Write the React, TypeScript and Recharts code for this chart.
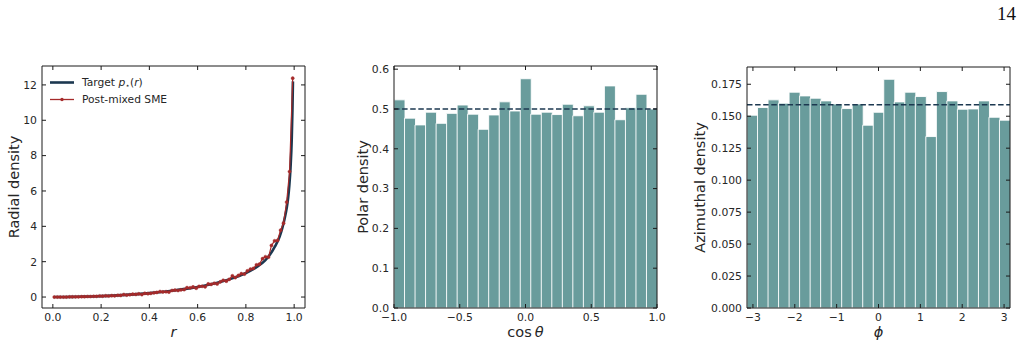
import {
  ComposedChart,
  LineChart,
  Line,
  Bar,
  XAxis,
  YAxis,
  ReferenceLine,
  Legend,
} from "recharts";

const FONT = "'DejaVu Sans', sans-serif";
const INK = "#262626";
const FRAME = "#1a1a1a";
const NAVY = "#1c3850";
const BRICK = "#a52a2a";
const TEAL = "#699c9c";

// radial density panel
const targetR = [0.005, 0.05, 0.1, 0.15, 0.2, 0.25, 0.3, 0.35, 0.4, 0.45, 0.5, 0.55, 0.6, 0.65, 0.7, 0.75, 0.8, 0.85, 0.88, 0.9, 0.92, 0.94, 0.95, 0.96, 0.97, 0.975, 0.98, 0.985, 0.99, 0.993, 0.995];
const targetP = [0.0, 0.003, 0.013, 0.029, 0.052, 0.082, 0.12, 0.167, 0.222, 0.289, 0.367, 0.461, 0.573, 0.708, 0.873, 1.083, 1.358, 1.746, 2.075, 2.4, 2.85, 3.42, 3.85, 4.4, 5.1, 5.6, 6.3, 7.3, 8.9, 10.6, 12.2];

const smeR = [
  0.006, 0.019, 0.031, 0.044, 0.056, 0.069, 0.081, 0.094, 0.106, 0.119,
  0.131, 0.144, 0.156, 0.169, 0.181, 0.194, 0.206, 0.219, 0.231, 0.244,
  0.256, 0.269, 0.281, 0.294, 0.306, 0.319, 0.331, 0.344, 0.356, 0.369,
  0.381, 0.394, 0.406, 0.419, 0.431, 0.444, 0.456, 0.469, 0.481, 0.494,
  0.506, 0.519, 0.531, 0.544, 0.556, 0.569, 0.581, 0.594, 0.606, 0.619,
  0.631, 0.644, 0.656, 0.669, 0.681, 0.694, 0.706, 0.719, 0.731, 0.744,
  0.756, 0.769, 0.781, 0.794, 0.806, 0.819, 0.831, 0.844, 0.856, 0.869,
  0.881, 0.894, 0.906, 0.919, 0.931, 0.944, 0.956, 0.969, 0.981, 0.994,
];
const smeP = [
  0.0, 0.0, 0.0, 0.0, 0.0, 0.01, 0.01, 0.01, 0.01, 0.02,
  0.02, 0.03, 0.03, 0.04, 0.04, 0.06, 0.05, 0.07, 0.06, 0.08,
  0.07, 0.1, 0.09, 0.14, 0.11, 0.13, 0.16, 0.15, 0.18, 0.14,
  0.21, 0.19, 0.21, 0.24, 0.26, 0.31, 0.29, 0.3, 0.28, 0.37,
  0.39, 0.37, 0.41, 0.42, 0.53, 0.52, 0.57, 0.5, 0.6, 0.61,
  0.58, 0.74, 0.72, 0.78, 0.74, 0.86, 0.95, 0.9, 1.0, 1.2,
  1.1, 1.22, 1.32, 1.3, 1.48, 1.58, 1.62, 1.82, 1.86, 2.17,
  2.28, 2.26, 2.92, 3.18, 3.2, 3.78, 4.18, 5.37, 7.1, 12.38,
];
const radialXTicks = [0, 0.2, 0.4, 0.6, 0.8, 1.0];
const radialYTicks = [0, 2, 4, 6, 8, 10, 12];

// polar density panel (cos theta histogram, 25 bins)
const polarBins = [
  -0.96, -0.88, -0.8, -0.72, -0.64, -0.56, -0.48, -0.4, -0.32, -0.24, -0.16, -0.08, 0,
  0.08, 0.16, 0.24, 0.32, 0.4, 0.48, 0.56, 0.64, 0.72, 0.8, 0.88, 0.96,
];
const polarDensity = [
  0.523, 0.477, 0.46, 0.492, 0.464, 0.489, 0.51, 0.487, 0.449, 0.485, 0.518, 0.495, 0.576,
  0.487, 0.492, 0.486, 0.512, 0.483, 0.508, 0.492, 0.558, 0.473, 0.503, 0.537, 0.5,
];
const polarXTicks = [-1, -0.5, 0, 0.5, 1];
const polarYTicks = [0, 0.1, 0.2, 0.3, 0.4, 0.5, 0.6];
const polarUniform = 0.5;

// azimuthal density panel (phi histogram, 25 bins)
const aziBins = [
  -3.016, -2.765, -2.513, -2.262, -2.011, -1.759, -1.508, -1.257, -1.005, -0.754, -0.503, -0.251, 0,
  0.251, 0.503, 0.754, 1.005, 1.257, 1.508, 1.759, 2.011, 2.262, 2.513, 2.765, 3.016,
];
const aziDensity = [
  0.1508, 0.1568, 0.1628, 0.1602, 0.1688, 0.1659, 0.1641, 0.162, 0.1596, 0.156, 0.1596, 0.143, 0.1531,
  0.1789, 0.1612, 0.1688, 0.1654, 0.1341, 0.1693, 0.162, 0.1555, 0.1557, 0.162, 0.1492, 0.1469,
];
const aziXTicks = [-3, -2, -1, 0, 1, 2, 3];
const aziYTicks = [0, 0.025, 0.05, 0.075, 0.1, 0.125, 0.15, 0.175];
const aziUniform = 0.159;

const tickStyle = { fontFamily: FONT, fontSize: 10.8, fill: INK };
const frameLine = { stroke: FRAME, strokeWidth: 1 };
const blank = () => "";
const fmt = (digits: number) => (v: number) => v.toFixed(digits).replace("-", "\u2212");

const xTitle = (node: any) => (p: any) => {
  const vb = p.viewBox || {};
  return (
    <text x={vb.x + vb.width / 2} y={vb.y + 29} textAnchor="middle" fontFamily={FONT} fontSize={14.5} fill={INK}>
      {node}
    </text>
  );
};

const yTitle = (value: string, offset: number) => (p: any) => {
  const vb = p.viewBox || {};
  const x = vb.x + offset;
  const y = vb.y + vb.height / 2;
  return (
    <text x={x} y={y} transform={`rotate(-90, ${x}, ${y})`} textAnchor="middle" dominantBaseline="central" fontFamily={FONT} fontSize={14.5} fill={INK}>
      {value}
    </text>
  );
};

const RadialLegend = () => (
  <div style={{ fontFamily: FONT, fontSize: 10.7, color: INK, lineHeight: "17px", whiteSpace: "nowrap" }}>
    <div style={{ display: "flex", alignItems: "center", height: 17 }}>
      <svg width={24} height={17}>
        <line x1={0} x2={24} y1={8.5} y2={8.5} stroke={NAVY} strokeWidth={2.6} />
      </svg>
      <span style={{ marginLeft: 8 }}>
        Target <i>p</i>
        <span style={{ fontSize: 7.5, position: "relative", top: 2 }}>⋆</span>(<i>r</i>)
      </span>
    </div>
    <div style={{ display: "flex", alignItems: "center", height: 17 }}>
      <svg width={24} height={17}>
        <line x1={0} x2={24} y1={8.5} y2={8.5} stroke={BRICK} strokeWidth={1.3} />
        <circle cx={12} cy={8.5} r={1.7} fill={BRICK} />
      </svg>
      <span style={{ marginLeft: 8 }}>Post-mixed SME</span>
    </div>
  </div>
);

const RadialPanel = () => {
  const targetRows = targetR.map((r, i) => ({ r, p: targetP[i] }));
  const smeRows = smeR.map((r, i) => ({ r, p: smeP[i] }));
  const xDom = [-0.045, 1.045];
  const yDom = [-0.62, 13.07];
  return (
    <LineChart width={320} height={347} margin={{ top: 65, right: 14, bottom: 0, left: 0 }}>
      <XAxis xAxisId="bottom" type="number" dataKey="r" domain={xDom} ticks={radialXTicks} allowDataOverflow
        tickFormatter={fmt(1)} tick={tickStyle} axisLine={frameLine} tickLine={frameLine} tickSize={-4} tickMargin={9}
        height={39} label={{ content: xTitle(<tspan fontStyle="italic">r</tspan>) }} />
      <XAxis xAxisId="top" orientation="top" type="number" dataKey="r" domain={xDom} ticks={radialXTicks} allowDataOverflow
        tickFormatter={blank} axisLine={frameLine} tickLine={frameLine} tickSize={-4} height={1} />
      <YAxis yAxisId="left" type="number" domain={yDom} ticks={radialYTicks} allowDataOverflow width={42}
        tickFormatter={fmt(0)} tick={tickStyle} axisLine={frameLine} tickLine={frameLine} tickSize={-4} tickMargin={9}
        label={{ content: yTitle("Radial density", 13.5) }} />
      <YAxis yAxisId="right" orientation="right" type="number" domain={yDom} ticks={radialYTicks} allowDataOverflow width={1}
        tickFormatter={blank} axisLine={frameLine} tickLine={frameLine} tickSize={-4} />
      <Legend layout="vertical" align="center" verticalAlign="middle" content={() => <RadialLegend />}
        wrapperStyle={{ left: 50, top: 74, width: "auto", height: "auto" }} />
      <Line xAxisId="bottom" yAxisId="left" data={targetRows} dataKey="p" type="monotone" stroke={NAVY} strokeWidth={2.6}
        dot={false} isAnimationActive={false} />
      <Line xAxisId="bottom" yAxisId="left" data={smeRows} dataKey="p" type="linear" stroke={BRICK} strokeWidth={1.2}
        dot={{ r: 1.6, fill: BRICK, stroke: BRICK, strokeWidth: 0.4 }} isAnimationActive={false} />
    </LineChart>
  );
};

type HistProps = {
  bins: number[];
  density: number[];
  xDom: number[];
  xTicks: number[];
  xDigits: number;
  yDom: number[];
  yTicks: number[];
  yDigits: number;
  uniform: number;
  width: number;
  margin: { top: number; right: number; bottom: number; left: number };
  yAxisWidth: number;
  yLabel: string;
  yLabelOffset: number;
  xLabel: any;
};

const HistPanel = (props: HistProps) => {
  const rows = props.bins.map((c, i) => ({ c, v: props.density[i] }));
  return (
    <ComposedChart width={props.width} height={347} data={rows} margin={props.margin} barCategoryGap={0} barGap={0}>
      <XAxis xAxisId="num" type="number" dataKey="c" domain={props.xDom} ticks={props.xTicks} allowDataOverflow
        tickFormatter={fmt(props.xDigits)} tick={tickStyle} axisLine={frameLine} tickLine={frameLine} tickSize={-4} tickMargin={9}
        height={39} label={{ content: xTitle(props.xLabel) }} />
      <XAxis xAxisId="cat" dataKey="c" type="category" hide height={0} />
      <XAxis xAxisId="top" orientation="top" type="number" dataKey="c" domain={props.xDom} ticks={props.xTicks} allowDataOverflow
        tickFormatter={blank} axisLine={frameLine} tickLine={frameLine} tickSize={-4} height={1} />
      <YAxis yAxisId="left" type="number" domain={props.yDom} ticks={props.yTicks} allowDataOverflow width={props.yAxisWidth}
        tickFormatter={fmt(props.yDigits)} tick={tickStyle} axisLine={frameLine} tickLine={frameLine} tickSize={-4} tickMargin={9}
        label={{ content: yTitle(props.yLabel, props.yLabelOffset) }} />
      <YAxis yAxisId="right" orientation="right" type="number" domain={props.yDom} ticks={props.yTicks} allowDataOverflow width={1}
        tickFormatter={blank} axisLine={frameLine} tickLine={frameLine} tickSize={-4} />
      <Bar xAxisId="cat" yAxisId="left" dataKey="v" fill={TEAL} stroke="#ffffff" strokeWidth={0.9} isAnimationActive={false} />
      <ReferenceLine xAxisId="num" yAxisId="left" y={props.uniform} stroke={NAVY} strokeWidth={1.5} strokeDasharray="5.5 2.6" />
    </ComposedChart>
  );
};

export default function App() {
  return (
    <div style={{ position: "absolute", left: 0, top: 0, width: 1022, height: 347, background: "#fff" }}>
      <svg width={1022} height={30} style={{ position: "absolute", left: 0, top: 0 }}>
        <text x={1016} y={20} textAnchor="end" fontFamily="'Liberation Serif', serif" fontSize={19} fill="#111">14</text>
      </svg>
      <div style={{ position: "absolute", left: 0, top: 0 }}>
        <RadialPanel />
      </div>
      <div style={{ position: "absolute", left: 340, top: 0 }}>
        <HistPanel
          bins={polarBins}
          density={polarDensity}
          xDom={[-1, 1]}
          xTicks={polarXTicks}
          xDigits={1}
          yDom={[0, 0.608]}
          yTicks={polarYTicks}
          yDigits={1}
          uniform={polarUniform}
          width={330}
          margin={{ top: 65, right: 12, bottom: 0, left: 4 }}
          yAxisWidth={50}
          yLabel="Polar density"
          yLabelOffset={19.3}
          xLabel={<>cos<tspan dx={3} fontStyle="italic">θ</tspan></>}
        />
      </div>
      <div style={{ position: "absolute", left: 680, top: 0 }}>
        <HistPanel
          bins={aziBins}
          density={aziDensity}
          xDom={[-Math.PI, Math.PI]}
          xTicks={aziXTicks}
          xDigits={0}
          yDom={[0, 0.1885]}
          yTicks={aziYTicks}
          yDigits={3}
          uniform={aziUniform}
          width={342}
          margin={{ top: 66, right: 11, bottom: 0, left: 5 }}
          yAxisWidth={62}
          yLabel="Azimuthal density"
          yLabelOffset={15}
          xLabel={<tspan fontStyle="italic">ϕ</tspan>}
        />
      </div>
    </div>
  );
}
